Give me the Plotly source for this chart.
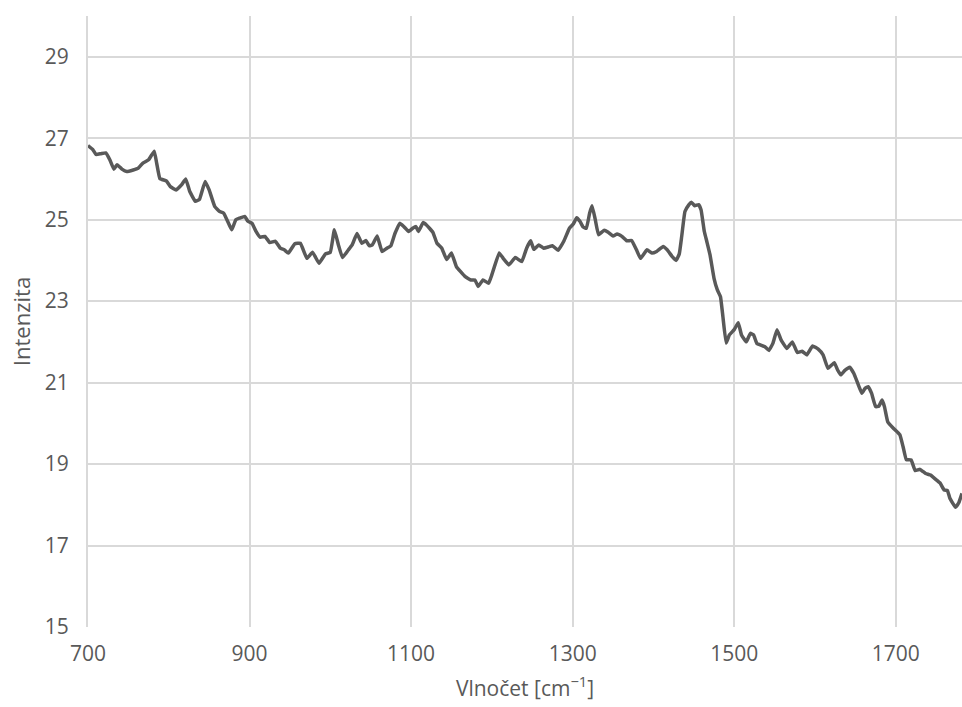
import plotly.graph_objects as go

wavenumber = [
    700, 706, 710, 716, 722, 727, 732, 736, 742, 748, 756, 762, 768, 775, 782, 785, 789, 797, 802, 809,
    816, 821, 826, 833, 838, 845, 850, 857, 863, 868, 874, 878, 883, 888, 894, 898, 903, 908, 913, 919,
    925, 932, 938, 943, 948, 956, 963, 971, 978, 986, 994, 1000, 1005, 1010, 1015, 1022, 1027, 1033, 1039, 1044,
    1048, 1052, 1058, 1064, 1070, 1075, 1080, 1086, 1091, 1097, 1102, 1106, 1109, 1115, 1119, 1127, 1132, 1138, 1144, 1150,
    1156, 1161, 1167, 1174, 1179, 1183, 1189, 1196, 1200, 1209, 1214, 1221, 1229, 1237, 1243, 1248, 1252, 1258, 1264, 1270,
    1275, 1282, 1289, 1296, 1301, 1305, 1309, 1313, 1317, 1321, 1324, 1328, 1332, 1339, 1344, 1350, 1355, 1361, 1367, 1373,
    1379, 1384, 1392, 1398, 1404, 1412, 1417, 1423, 1428, 1432, 1435, 1439, 1444, 1447, 1451, 1456, 1459, 1463, 1466, 1470,
    1475, 1479, 1483, 1486, 1490, 1494, 1500, 1505, 1509, 1515, 1520, 1524, 1528, 1533, 1538, 1543, 1548, 1553, 1558, 1565,
    1572, 1578, 1584, 1590, 1597, 1604, 1610, 1616, 1619, 1624, 1628, 1632, 1637, 1643, 1648, 1653, 1658, 1662, 1666, 1670,
    1675, 1679, 1683, 1686, 1690, 1697, 1705, 1709, 1713, 1719, 1724, 1730, 1737, 1743, 1749, 1755, 1760, 1764, 1767, 1774,
    1778, 1782,
]

intensity = [
    26.82, 26.72, 26.60, 26.62, 26.64, 26.47, 26.24, 26.35, 26.24, 26.18, 26.22, 26.26, 26.39, 26.47, 26.68, 26.39, 26.01, 25.95, 25.81, 25.73,
    25.86, 26.00, 25.69, 25.45, 25.50, 25.94, 25.73, 25.32, 25.20, 25.16, 24.91, 24.75, 25.00, 25.04, 25.08, 24.96, 24.91, 24.71, 24.57, 24.59,
    24.44, 24.47, 24.30, 24.26, 24.18, 24.41, 24.42, 24.05, 24.20, 23.93, 24.16, 24.20, 24.75, 24.38, 24.07, 24.25, 24.38, 24.66, 24.42, 24.49,
    24.36, 24.38, 24.60, 24.22, 24.30, 24.36, 24.66, 24.91, 24.83, 24.71, 24.79, 24.83, 24.71, 24.93, 24.87, 24.69, 24.42, 24.30, 24.02, 24.18,
    23.85, 23.73, 23.60, 23.52, 23.52, 23.36, 23.52, 23.44, 23.65, 24.18, 24.05, 23.89, 24.07, 23.97, 24.30, 24.48, 24.27, 24.38, 24.30, 24.33,
    24.36, 24.25, 24.47, 24.79, 24.90, 25.05, 24.96, 24.82, 24.79, 25.16, 25.34, 25.00, 24.63, 24.74, 24.69, 24.60, 24.65, 24.59, 24.48, 24.49,
    24.26, 24.05, 24.26, 24.18, 24.22, 24.34, 24.26, 24.10, 24.00, 24.16, 24.59, 25.20, 25.37, 25.43, 25.34, 25.37, 25.24, 24.71, 24.47, 24.14,
    23.56, 23.28, 23.11, 22.62, 21.97, 22.17, 22.30, 22.47, 22.17, 22.00, 22.21, 22.17, 21.96, 21.92, 21.88, 21.79, 21.97, 22.30, 22.05, 21.84,
    22.00, 21.74, 21.77, 21.68, 21.90, 21.82, 21.68, 21.35, 21.40, 21.49, 21.31, 21.19, 21.30, 21.38, 21.23, 20.98, 20.74, 20.86, 20.90, 20.74,
    20.41, 20.42, 20.57, 20.41, 20.04, 19.88, 19.72, 19.43, 19.11, 19.10, 18.84, 18.87, 18.77, 18.73, 18.63, 18.53, 18.36, 18.35, 18.16, 17.94,
    18.05, 18.28,
]

x_ticks = [700, 900, 1100, 1300, 1500, 1700]
y_ticks = [15, 17, 19, 21, 23, 25, 27, 29]

x_title = "Vlnočet [cm<sup>−1</sup>]"
y_title = "Intenzita"

text_color = "#595959"
grid_color = "#d9d9d9"
font_family = "Open Sans, Noto Sans, sans-serif"

fig = go.Figure()
fig.add_trace(go.Scatter(
    x=wavenumber, y=intensity, mode="lines",
    line=dict(color="#595959", width=3.5, shape="spline", smoothing=0.3),
    showlegend=False, hoverinfo="skip",
))

fig.update_layout(
    width=962, height=707,
    margin=dict(l=88, r=0, t=16, b=80),
    paper_bgcolor="white", plot_bgcolor="white",
    font=dict(family=font_family, size=20, color=text_color),
    xaxis=dict(
        range=[700, 1782], tickvals=x_ticks, ticktext=[str(v) for v in x_ticks],
        tickfont=dict(size=21, color=text_color),
        showgrid=True, gridcolor=grid_color, gridwidth=1.5,
        zeroline=False, showline=False, ticks="", ticklabelstandoff=12,
        title=dict(text=x_title, standoff=15, font=dict(size=21, color=text_color)),
        automargin=False,
    ),
    yaxis=dict(
        range=[15, 30], tickvals=y_ticks, ticktext=[str(v) for v in y_ticks],
        tickfont=dict(size=21, color=text_color),
        showgrid=True, gridcolor=grid_color, gridwidth=1.5,
        zeroline=False, showline=True, linecolor=grid_color, linewidth=2,
        ticks="", ticklabelstandoff=13,
        title=dict(text=y_title, standoff=8, font=dict(size=22, color=text_color)),
        automargin=False,
    ),
)

fig.write_html("out.html")
